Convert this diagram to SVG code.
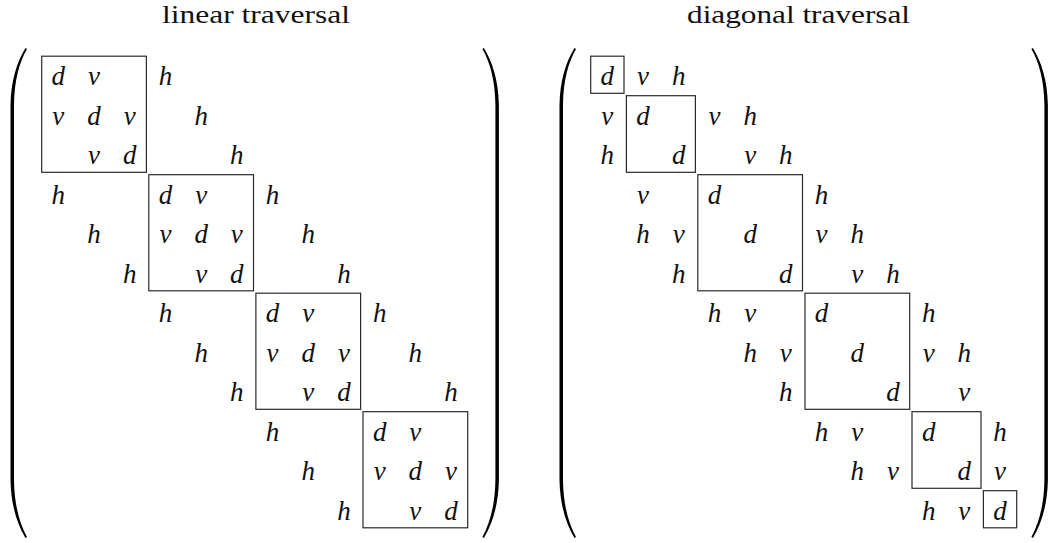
<svg xmlns="http://www.w3.org/2000/svg" width="1060" height="543" viewBox="0 0 1060 543">
<style>
.t{font-family:"Liberation Serif","DejaVu Serif",serif;font-size:26px;fill:#111;text-anchor:middle}
.e{font-family:"Liberation Serif","DejaVu Serif",serif;font-style:italic;font-size:27px;fill:#111;text-anchor:middle}
.b{fill:none;stroke:#2a2a2a;stroke-width:1.2}
.p{fill:#000}
</style>
<defs>
<path id="paren" d="M25.5,48 C17,62 11,80 10.5,105 L10.5,480 C11,505 17,524 25.5,538 L27,537 C19.5,523 14.3,505 14,480 L14,105 C14.3,80 19.5,62 27,49 Z"/>
</defs>
<rect width="1060" height="543" fill="#fff"/>

<g id="linear">
<text class="t" x="256" y="23" textLength="188" lengthAdjust="spacingAndGlyphs">linear traversal</text>
<use href="#paren" class="p"/>
<use href="#paren" class="p" transform="translate(509.4,0) scale(-1,1)"/>
<g id="linear-blocks">
<rect class="b" x="41.7" y="56.2" width="104.7" height="116.1"/>
<rect class="b" x="148.8" y="174.7" width="104.7" height="116.1"/>
<rect class="b" x="255.9" y="293.2" width="104.7" height="116.1"/>
<rect class="b" x="363" y="411.7" width="104.7" height="116.1"/>
</g>
<g id="linear-entries">
<text class="e" x="58.35" y="85">d</text><text class="e" x="94.05" y="85">v</text><text class="e" x="165.45" y="85">h</text>
<text class="e" x="58.35" y="124.5">v</text><text class="e" x="94.05" y="124.5">d</text><text class="e" x="129.75" y="124.5">v</text><text class="e" x="201.15" y="124.5">h</text>
<text class="e" x="94.05" y="164">v</text><text class="e" x="129.75" y="164">d</text><text class="e" x="236.85" y="164">h</text>
<text class="e" x="58.35" y="203.5">h</text><text class="e" x="165.45" y="203.5">d</text><text class="e" x="201.15" y="203.5">v</text><text class="e" x="272.55" y="203.5">h</text>
<text class="e" x="94.05" y="243">h</text><text class="e" x="165.45" y="243">v</text><text class="e" x="201.15" y="243">d</text><text class="e" x="236.85" y="243">v</text><text class="e" x="308.25" y="243">h</text>
<text class="e" x="129.75" y="282.5">h</text><text class="e" x="201.15" y="282.5">v</text><text class="e" x="236.85" y="282.5">d</text><text class="e" x="343.95" y="282.5">h</text>
<text class="e" x="165.45" y="322">h</text><text class="e" x="272.55" y="322">d</text><text class="e" x="308.25" y="322">v</text><text class="e" x="379.65" y="322">h</text>
<text class="e" x="201.15" y="361.5">h</text><text class="e" x="272.55" y="361.5">v</text><text class="e" x="308.25" y="361.5">d</text><text class="e" x="343.95" y="361.5">v</text><text class="e" x="415.35" y="361.5">h</text>
<text class="e" x="236.85" y="401">h</text><text class="e" x="308.25" y="401">v</text><text class="e" x="343.95" y="401">d</text><text class="e" x="451.05" y="401">h</text>
<text class="e" x="272.55" y="440.5">h</text><text class="e" x="379.65" y="440.5">d</text><text class="e" x="415.35" y="440.5">v</text>
<text class="e" x="308.25" y="480">h</text><text class="e" x="379.65" y="480">v</text><text class="e" x="415.35" y="480">d</text><text class="e" x="451.05" y="480">v</text>
<text class="e" x="343.95" y="519.5">h</text><text class="e" x="415.35" y="519.5">v</text><text class="e" x="451.05" y="519.5">d</text>
</g>
</g>

<g id="diagonal">
<text class="t" x="798.5" y="23" textLength="223" lengthAdjust="spacingAndGlyphs">diagonal traversal</text>
<use href="#paren" class="p" transform="translate(549,0)"/>
<use href="#paren" class="p" transform="translate(1058.4,0) scale(-1,1)"/>
<g id="diagonal-blocks">
<rect class="b" x="590.7" y="56.2" width="33.3" height="37.1"/>
<rect class="b" x="626.4" y="95.7" width="69" height="76.6"/>
<rect class="b" x="697.8" y="174.7" width="104.7" height="116.1"/>
<rect class="b" x="805" y="293.2" width="104.7" height="116.1"/>
<rect class="b" x="912" y="411.7" width="69" height="76.6"/>
<rect class="b" x="983.4" y="490.7" width="33.3" height="37.1"/>
</g>
<g id="diagonal-entries">
<text class="e" x="607.35" y="85">d</text><text class="e" x="643.05" y="85">v</text><text class="e" x="678.75" y="85">h</text>
<text class="e" x="607.35" y="124.5">v</text><text class="e" x="643.05" y="124.5">d</text><text class="e" x="714.45" y="124.5">v</text><text class="e" x="750.15" y="124.5">h</text>
<text class="e" x="607.35" y="164">h</text><text class="e" x="678.75" y="164">d</text><text class="e" x="750.15" y="164">v</text><text class="e" x="785.85" y="164">h</text>
<text class="e" x="643.05" y="203.5">v</text><text class="e" x="714.45" y="203.5">d</text><text class="e" x="821.55" y="203.5">h</text>
<text class="e" x="643.05" y="243">h</text><text class="e" x="678.75" y="243">v</text><text class="e" x="750.15" y="243">d</text><text class="e" x="821.55" y="243">v</text><text class="e" x="857.25" y="243">h</text>
<text class="e" x="678.75" y="282.5">h</text><text class="e" x="785.85" y="282.5">d</text><text class="e" x="857.25" y="282.5">v</text><text class="e" x="892.95" y="282.5">h</text>
<text class="e" x="714.45" y="322">h</text><text class="e" x="750.15" y="322">v</text><text class="e" x="821.55" y="322">d</text><text class="e" x="928.65" y="322">h</text>
<text class="e" x="750.15" y="361.5">h</text><text class="e" x="785.85" y="361.5">v</text><text class="e" x="857.25" y="361.5">d</text><text class="e" x="928.65" y="361.5">v</text><text class="e" x="964.35" y="361.5">h</text>
<text class="e" x="785.85" y="401">h</text><text class="e" x="892.95" y="401">d</text><text class="e" x="964.35" y="401">v</text>
<text class="e" x="821.55" y="440.5">h</text><text class="e" x="857.25" y="440.5">v</text><text class="e" x="928.65" y="440.5">d</text><text class="e" x="1000.05" y="440.5">h</text>
<text class="e" x="857.25" y="480">h</text><text class="e" x="892.95" y="480">v</text><text class="e" x="964.35" y="480">d</text><text class="e" x="1000.05" y="480">v</text>
<text class="e" x="928.65" y="519.5">h</text><text class="e" x="964.35" y="519.5">v</text><text class="e" x="1000.05" y="519.5">d</text>
</g>
</g>
</svg>
